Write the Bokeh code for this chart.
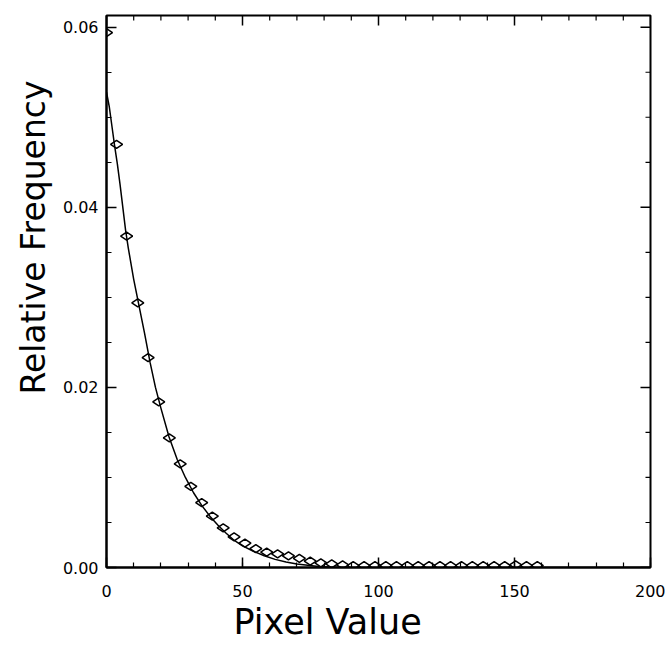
import numpy as np
from bokeh.plotting import figure
from bokeh.models import LinearAxis, FixedTicker, Range1d, Title
from bokeh.embed import file_html
from bokeh.resources import INLINE

# --- data ---
pixel_values = [0, 3.7, 7.4, 11.5, 15.3, 19.2, 23.1, 27.1, 31.0, 35.0, 38.9, 42.9,
                46.9, 50.9, 54.9, 58.9, 62.9, 66.9, 70.9, 74.9, 78.8, 82.8, 86.8,
                90.7, 94.7, 98.7, 102.7, 106.6, 110.6, 114.6, 118.6, 122.6, 126.5,
                130.5, 134.5, 138.5, 142.5, 146.4, 150.4, 154.4, 158.4]
rel_freq = [0.0594, 0.0470, 0.0368, 0.0294, 0.0233, 0.0184, 0.0144, 0.0115, 0.0090,
            0.0072, 0.0057, 0.0044, 0.0034, 0.0027, 0.0021, 0.0017, 0.0015, 0.0013,
            0.0010, 0.0007, 0.0005, 0.0004, 0.0003, 0.0002, 0.0002, 0.0002, 0.0002,
            0.0002, 0.0002, 0.0002, 0.0002, 0.0002, 0.0002, 0.0002, 0.0002, 0.0002,
            0.0002, 0.0002, 0.0003, 0.0002, 0.0002]

fit_x = [0, 1, 2, 3, 4, 5, 6, 7, 8, 10, 12, 14, 16, 18, 20, 23, 26, 29, 32, 35, 38,
         41, 44, 47, 50, 54, 58, 62, 66, 70, 74, 78, 82, 90, 100, 200]
fit_y = [0.0528, 0.0512, 0.0490, 0.0468, 0.0448, 0.0425, 0.0400, 0.0375, 0.0355,
         0.0320, 0.0290, 0.0260, 0.0228, 0.0200, 0.0177, 0.0145, 0.0120, 0.0100,
         0.0083, 0.0069, 0.0057, 0.0047, 0.0038, 0.0030, 0.0024, 0.0018, 0.0013,
         0.0009, 0.0006, 0.0004, 0.00025, 0.00012, 0.00005, 0.0, 0.0, 0.0]

x_min, x_max = 0, 200
y_min, y_max = 0.0, 0.0613
x_ticks = [0, 50, 100, 150, 200]
x_tick_labels = ["0", "50", "100", "150", "200"]
x_minor_ticks = [0, 10, 20, 30, 40, 50, 60, 70, 80, 90, 100, 110, 120, 130, 140,
                 150, 160, 170, 180, 190, 200]
y_ticks = [0.0, 0.02, 0.04, 0.06]
y_tick_labels = ["0.00", "0.02", "0.04", "0.06"]
y_minor_ticks = [0.0, 0.005, 0.01, 0.015, 0.02, 0.025, 0.03, 0.035, 0.04, 0.045,
                 0.05, 0.055, 0.06]

x_label = "Pixel Value"
y_label = "Relative Frequency"

FONT = "DejaVu Sans"

p = figure(frame_width=544, frame_height=552,
           x_range=Range1d(x_min, x_max), y_range=Range1d(y_min, y_max),
           x_axis_location=None, y_axis_location=None,
           output_backend="svg", toolbar_location=None,
           min_border_left=106, min_border_right=15, min_border_top=15,
           min_border_bottom=5, background_fill_color="white",
           border_fill_color="white")
p.outline_line_color = "black"
p.outline_line_width = 2
p.xgrid.visible = False
p.ygrid.visible = False


def style_axis(ax):
    ax.axis_line_color = "black"
    ax.axis_line_width = 2
    ax.major_tick_in = 10
    ax.major_tick_out = 0
    ax.minor_tick_in = 5
    ax.minor_tick_out = 0
    ax.major_tick_line_width = 1.5
    ax.minor_tick_line_width = 1.2
    ax.major_tick_line_color = "black"
    ax.minor_tick_line_color = "black"
    ax.major_label_text_font = FONT
    ax.major_label_text_font_size = "16px"
    ax.major_label_text_color = "black"


xt = FixedTicker(ticks=x_ticks, minor_ticks=x_minor_ticks)
yt = FixedTicker(ticks=y_ticks, minor_ticks=y_minor_ticks)

bottom = LinearAxis(ticker=xt,
                    major_label_overrides=dict(zip(x_ticks, x_tick_labels)))
style_axis(bottom)
bottom.major_label_standoff = 17
left = LinearAxis(ticker=yt,
                  major_label_overrides=dict(zip(y_ticks, y_tick_labels)))
style_axis(left)
left.major_label_standoff = 8

p.add_layout(bottom, "below")
p.add_layout(left, "left")

# tick marks on the top and right edges (screen-length rays from the frame edges)
x_minor_only = [t for t in x_minor_ticks if t not in x_ticks]
y_minor_only = [t for t in y_minor_ticks if t not in y_ticks]
p.ray(x=x_ticks, y=[y_max] * len(x_ticks), length=10, length_units="screen",
      angle=-np.pi / 2, line_color="black", line_width=1.5)
p.ray(x=x_minor_only, y=[y_max] * len(x_minor_only), length=5,
      length_units="screen", angle=-np.pi / 2, line_color="black", line_width=1.2)
p.ray(x=[x_max] * len(y_ticks), y=y_ticks, length=10, length_units="screen",
      angle=np.pi, line_color="black", line_width=1.5)
p.ray(x=[x_max] * len(y_minor_only), y=y_minor_only, length=5,
      length_units="screen", angle=np.pi, line_color="black", line_width=1.2)

xt_title = Title(text=x_label, align="left", offset=127, text_font=FONT,
                 text_font_size="35px", text_font_style="normal",
                 text_color="black", standoff=0)
p.add_layout(xt_title, "below")
yt_title = Title(text=y_label, align="right", offset=65, text_font=FONT,
                 text_font_size="33px", text_font_style="normal",
                 text_color="black", standoff=10, vertical_align="top")
p.add_layout(yt_title, "left")

p.line(fit_x, fit_y, line_color="black", line_width=1.5)
p.scatter(pixel_values, rel_freq, marker="diamond", angle=np.pi / 2, size=12,
          line_color="black", line_width=1.5, fill_color=None)

open("out.html", "w").write(file_html(p, INLINE))
